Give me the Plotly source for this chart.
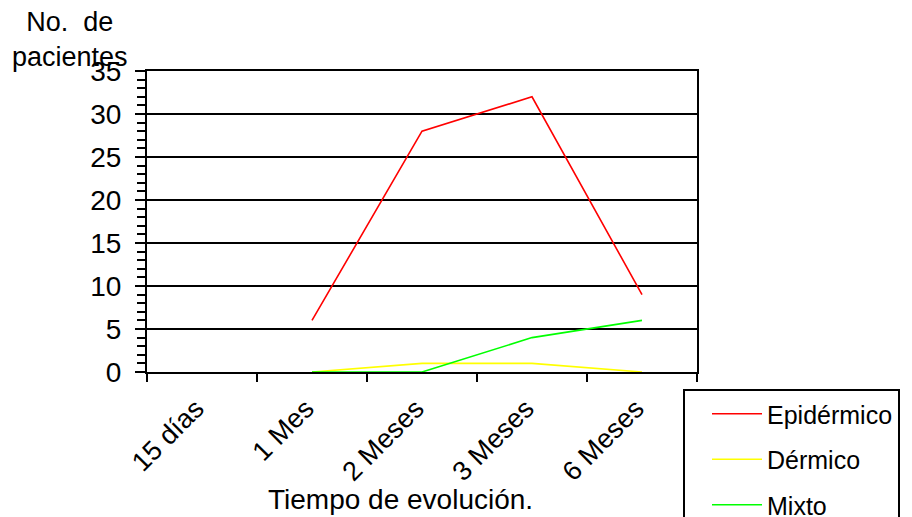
import plotly.graph_objects as go

categories = ["15 días", "1 Mes", "2 Meses", "3 Meses", "6 Meses"]
epidermico = [None, 6, 28, 32, 9]
dermico = [None, 0, 1, 1, 0]
mixto = [None, 0, 0, 4, 6]

series = [
    ("Epidérmico", epidermico, "#FF0000"),
    ("Dérmico", dermico, "#FFFF00"),
    ("Mixto", mixto, "#00FF00"),
]

FONT = "Liberation Sans, Arial, sans-serif"

# page body has an 8px offset; figure coords = reference coords - 8
W, H = 904, 509
PL, PR, PT, PB = 139, 689, 63, 364
pw, ph = PR - PL, PB - PT

fig = go.Figure()
for i, (name, vals, color) in enumerate(series):
    fig.add_trace(go.Scatter(
        x=categories, y=vals, name=name, mode="lines",
        line=dict(color=color, width=1.6),
        legendgroup=f"g{i}", connectgaps=False,
    ))

fig.update_layout(
    width=W, height=H,
    margin=dict(l=PL, r=W - PR, t=PT, b=H - PB, autoexpand=False),
    paper_bgcolor="white", plot_bgcolor="white",
    font=dict(family=FONT, size=24, color="black"),
    showlegend=True,
    legend=dict(
        x=(675 - PL) / pw, y=(PB - 381) / ph, xanchor="left", yanchor="top",
        bordercolor="black", borderwidth=2, bgcolor="white",
        font=dict(family=FONT, size=25, color="black"),
        itemwidth=50, tracegroupgap=10, entrywidth=240, indentation=22,
    ),
    xaxis=dict(
        type="category", range=[-0.5, 4.5], tickson="boundaries",
        ticks="outside", ticklen=8, tickwidth=1.5, tickcolor="black",
        tickangle=-45, tickfont=dict(family=FONT, size=27),
        ticklabelstandoff=8, ticklabelshift=-6,
        showline=True, linecolor="black", linewidth=2, mirror=True,
        showgrid=False, zeroline=False,
    ),
    yaxis=dict(
        range=[0, 35], dtick=5, tick0=0,
        ticks="outside", ticklen=10, tickwidth=2, tickcolor="black",
        tickfont=dict(family=FONT, size=28),
        ticklabelstandoff=8,
        showline=True, linecolor="black", linewidth=2, mirror=True,
        showgrid=True, gridcolor="black", gridwidth=1.5,
        zeroline=False,
        minor=dict(dtick=1, ticks="outside", ticklen=8, tickwidth=1.5, tickcolor="black", showgrid=False),
    ),
    annotations=[
        dict(text="No.  de<br>pacientes", xref="paper", yref="paper",
             x=(62 - PL) / pw, y=1 + (PT + 3) / ph, xanchor="center", yanchor="top",
             showarrow=False, font=dict(family=FONT, size=27), align="center"),
        dict(text="Tiempo de evolución.", xref="paper", yref="paper",
             x=(392 - PL) / pw, y=-(H - PB) / ph, xanchor="center", yanchor="bottom",
             showarrow=False, font=dict(family=FONT, size=28)),
    ],
)

fig.write_html("out.html")
